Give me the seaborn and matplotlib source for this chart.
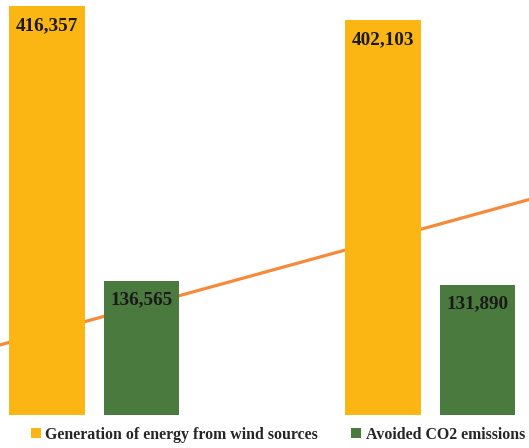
import matplotlib
matplotlib.use("Agg")
import matplotlib.pyplot as plt
from matplotlib.patches import Patch
import pandas as pd
import seaborn as sns

# Data
periods = ["Period 1", "Period 2"]
series_names = ["Generation of energy from wind sources", "Avoided CO2 emissions"]
generation = [416357, 402103]
avoided_co2 = [136565, 131890]
trend_values = [97300, 191500]   # orange trend line, at the two period positions

colors = ["#FBB614", "#4A7A3D"]
line_color = "#F58A3A"

df = pd.DataFrame({
    "period": periods * 2,
    "series": [series_names[0]] * 2 + [series_names[1]] * 2,
    "value": generation + avoided_co2,
})

sns.set_theme(style="white")
plt.rcParams["font.family"] = ["Liberation Serif", "DejaVu Serif"]

fig = plt.figure(figsize=(5.29, 4.48), dpi=100)
ax = fig.add_axes([0, 33.5 / 448, 1, 414.5 / 448])

sns.barplot(data=df, x="period", y="value", hue="series", hue_order=series_names,
            order=periods, palette=colors, saturation=1, width=0.565, gap=0.2, ax=ax,
            legend=False, zorder=3, linewidth=0)

# Straight trend line running across the plot
ax.axline((0, trend_values[0]), (1, trend_values[1]), color=line_color, lw=2.3, zorder=2)

# Value labels inside the top of each bar
for container, vals in zip(ax.containers, [generation, avoided_co2]):
    for bar, v in zip(container, vals):
        ax.annotate(f"{v:,}", xy=(bar.get_x() + bar.get_width() / 2, bar.get_height()),
                    xytext=(0, -19), textcoords="offset pixels", ha="center", va="center",
                    fontsize=13.8, fontweight="bold", color="#1a1a1a", zorder=4)

ax.set_xlim(-0.2798, 1.2946)
ax.set_ylim(0, 422800)
ax.axis("off")

handles = [Patch(facecolor=c, edgecolor="none") for c in colors]
fig.legend(handles, series_names, loc="center", bbox_to_anchor=(0.5255, 13 / 448),
           ncol=2, frameon=False, handlelength=0.6, handleheight=0.6,
           handletextpad=0.3, columnspacing=2.1,
           prop={"family": ["Liberation Serif"], "weight": "bold", "size": 11.4})

fig.savefig("out.png", dpi=100, facecolor="white")
